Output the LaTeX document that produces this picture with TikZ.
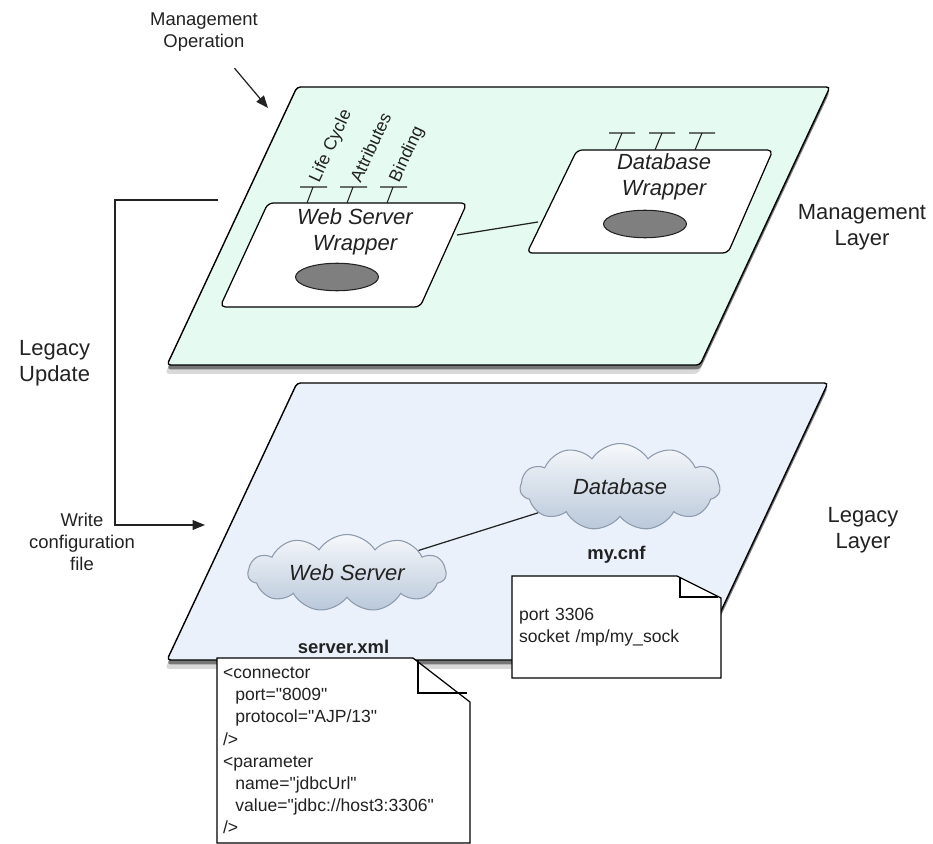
\documentclass[tikz,border=0pt]{standalone}
\usepackage{fontspec}
\setmainfont{Liberation Sans}
\newfontfamily\notefont{Liberation Sans}[Ligatures=TeXOff]
\usetikzlibrary{arrows.meta, positioning, calc, shapes.geometric, shapes.symbols, shadows}
\definecolor{mgmtfill}{HTML}{E5FAF1}
\definecolor{legacyfill}{HTML}{EAF1FB}
\definecolor{inkgray}{HTML}{222222}
\definecolor{cloudtop}{HTML}{F6F8FB}
\definecolor{cloudbot}{HTML}{B9C8DA}
\definecolor{cloudline}{HTML}{8D9AAC}
\definecolor{enginefill}{HTML}{7F7F7F}
\tikzset{%
    layer/.style = {draw=black, line width=0.8pt, rounded corners=2pt,
        drop shadow={shadow xshift=0pt, shadow yshift=-2.5pt, opacity=.45, fill=black},
        drop shadow={shadow xshift=-1pt, shadow yshift=-5pt, opacity=.15, fill=black}},
    wrapper/.style = {draw=black, fill=white, line width=0.7pt, rounded corners=3pt},
    engine/.style = {ellipse, draw=inkgray, fill=enginefill, line width=0.6pt,
        minimum width=1.66cm, minimum height=0.55cm, inner sep=0pt},
    cloudy/.style = {cloud, cloud puffs=11, cloud puff arc=115, cloud ignores aspect,
        draw=cloudline, top color=cloudtop, bottom color=cloudbot, line width=0.6pt,
        minimum width=3.96cm, minimum height=1.54cm, inner sep=0pt,
        font=\itshape\fontsize{12.5}{15}\selectfont},
    side/.style = {align=center, font=\fontsize{12.5}{15}\selectfont},
    small/.style = {align=center, font=\fontsize{10.5}{12.5}\selectfont},
    wraptext/.style = {align=center, font=\itshape\fontsize{12.5}{14.5}\selectfont},
    iface/.style = {rotate=65, anchor=west, inner sep=1pt, font=\fontsize{10}{12}\selectfont},
    notearea/.style = {rectangle, inner sep=0pt, outer sep=0pt},
    notepaper/.style = {draw=black, fill=white, line width=0.7pt},
    notetext/.style = {align=left, inner sep=0pt, font=\notefont\fontsize{10}{12.6}\selectfont},
    filename/.style = {inner sep=0pt, font=\bfseries\fontsize{10.5}{12}\selectfont},
    flow/.style = {draw=inkgray, line width=0.7pt, -{Triangle[length=7pt, width=5.5pt]}},
    link/.style = {draw=inkgray, line width=0.7pt},
    stub/.style = {draw=inkgray, line width=0.6pt}
}

\begin{document}
\begin{tikzpicture}[x=0.02cm, y=-0.02cm, every node/.append style={text=inkgray}]
    \useasboundingbox (0,0) rectangle (933,844);

    % the two layers
    \draw[layer, fill=mgmtfill] (297,87) -- (830,87) -- (700,365) -- (167,365) -- cycle;
    \draw[layer, fill=legacyfill] (297,383) -- (828,383) -- (698,660) -- (167,660) -- cycle;
    \node[side] (mgmtname) at (862,227) {Management\\Layer};
    \node[side] (legname) at (863,530) {Legacy\\Layer};

    % management layer
    \draw[wrapper] (268,203) -- (467,203) -- (420,307) -- (220,307) -- cycle;
    \draw[wrapper] (577,150) -- (773,150) -- (728,253) -- (527,253) -- cycle;
    \node[wraptext] (wstext) at (355,232) {Web Server\\Wrapper};
    \node[wraptext] (dbtext) at (664,177) {Database\\Wrapper};
    \node[engine] (wseng) at (337,277) {};
    \node[engine] (dbeng) at (645,224) {};
    \coordinate (wsedge) at (457,235);
    \coordinate (dbedge) at (538,222);
    \draw[link] (wsedge) -- (dbedge);
    \foreach \x/\t [count=\i] in {307/Life Cycle, 347/Attributes, 387/Binding} {
        \draw[stub] (\x,203) -- (\x+6,187) (\x-7,187) -- (\x+20,187);
        \node[iface] (if\i) at (\x+7,183) {\t};
    }
    \foreach \x in {615,655,695}
        \draw[stub] (\x,150) -- (\x+7,133) (\x-6,133) -- (\x+20,133);

    % legacy layer
    \node[cloudy] (wsc) at (347,573) {Web Server};
    \node[cloudy, minimum width=4cm, minimum height=1.74cm] (dbc) at (620,487) {Database};
    \draw[link] (wsc) -- (dbc);

    % config files
    \node[notearea, minimum width=5.06cm, minimum height=3.7cm] (srvnote) at (343.5,750.5) {};
    \draw[notepaper] (srvnote.north west) -- ($(srvnote.north east)+(-57,0)$)
        -- ($(srvnote.north east)+(0,44)$) -- (srvnote.south east) -- (srvnote.south west) -- cycle;
    \draw[notepaper, fill=none] ($(srvnote.north east)+(-52,2)$) |- ($(srvnote.north east)+(-3,35)$);
    \node[notetext, text width=4.82cm] (srvtext) at (srvnote.center) {%
        <connector\\
        \hspace*{7pt}port="8009"\\
        \hspace*{7pt}protocol="AJP/13"\\
        />\\
        <parameter\\
        \hspace*{7pt}name="jdbcUrl"\\
        \hspace*{7pt}value="jdbc://host3:3306"\\
        />};
    \node[filename, above=2pt of srvnote] (srvname) {server.xml};

    \node[notearea, minimum width=4.18cm, minimum height=2.04cm] (cnfnote) at (616.5,627) {};
    \draw[notepaper] (cnfnote.north west) -- ($(cnfnote.north east)+(-44,0)$)
        -- ($(cnfnote.north east)+(0,22)$) -- (cnfnote.south east) -- (cnfnote.south west) -- cycle;
    \draw[notepaper, fill=none] ($(cnfnote.north east)+(-41,1)$) |- ($(cnfnote.north east)+(-3,21)$);
    \node[notetext, text width=3.9cm] (cnftext) at (cnfnote.center) {port 3306\\socket /mp/my\_sock};
    \node[filename, above=7pt of cnfnote] (cnfname) {my.cnf};

    % operations
    \node[small] (mgmtop) at (204,32) {Management\\Operation};
    \coordinate (optip) at (268,108);
    \draw[flow, shorten <=8pt] (mgmtop) -- (optip);

    \node[side, align=left, anchor=west] (legupd) at (13,363) {Legacy\\Update};
    \node[small] (wcfg) at (82,542) {Write\\configuration\\file};
    \coordinate (updfrom) at (218,200);
    \coordinate (updto) at (205,525);
    \draw[flow] (updfrom) -- (115,200) |- (updto);
\end{tikzpicture}
\end{document}
